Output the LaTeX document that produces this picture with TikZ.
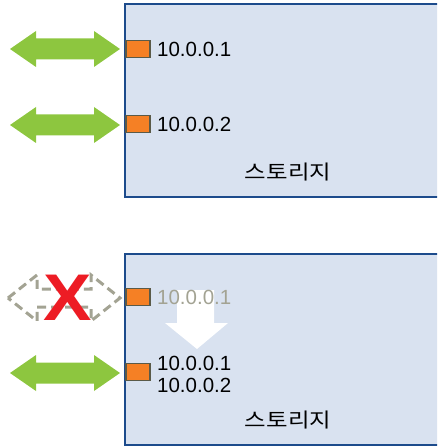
\documentclass[tikz,border=0pt]{standalone}
\usepackage{fontspec}
\setmainfont{Liberation Sans}
\newfontfamily\krfont{Noto Sans CJK KR}
\definecolor{boxfill}{HTML}{D9E2F0}
\definecolor{boxline}{HTML}{1C4B8C}
\definecolor{arrgreen}{HTML}{8DC63F}
\definecolor{portfill}{HTML}{F58025}
\definecolor{portline}{HTML}{5A5A48}
\definecolor{dimgray}{HTML}{A3A393}
\definecolor{xred}{HTML}{ED1C24}
\begin{document}
\begin{tikzpicture}[x=1pt,y=-1pt,
  storage/.style={draw=boxline,line width=2pt,fill=boxfill},
  port/.style={draw=portline,line width=1.6pt,fill=portfill,minimum width=24pt,minimum height=17pt,inner sep=0pt},
  ip/.style={font=\fontsize{20.5}{22}\selectfont,inner sep=0pt,anchor=west},
  lbl/.style={font=\krfont\fontsize{20}{22}\selectfont,inner sep=0pt,xscale=1.17},
  dblarrow/.pic={\path[pic actions] (-55,0) -- (-29,-18) -- (-29,-10.5) -- (29,-10.5) -- (29,-18) -- (55,0) -- (29,18) -- (29,10.5) -- (-29,10.5) -- (-29,18) -- cycle;},
  dimarrow/.pic={\path[pic actions] (-56,0) -- (-27,-23) -- (-27,-9) -- (27,-9) -- (27,-23) -- (56,0) -- (27,23) -- (27,9) -- (-27,9) -- (-27,23) -- cycle;}
]
\useasboundingbox (0,0) rectangle (437,446);
\clip (0,0) rectangle (437,446);
% top storage
\draw[storage] (125,4.5) rectangle (450,196.5);
\node[port] (p1) at (138,49) {};
\node[port] (p2) at (138,124) {};
\node[ip] (ip1) at (157,49) {10.0.0.1};
\node[ip] (ip2) at (157,124) {10.0.0.2};
\node[lbl] (s1) at (288,172) {스토리지};
\pic[fill=arrgreen] (a1) at (65,49) {dblarrow};
\pic[fill=arrgreen] (a2) at (65,125) {dblarrow};
% bottom storage
\draw[storage] (125,253.5) rectangle (450,444.5);
\fill[white] (177,290) -- (214,290) -- (214,323) -- (228,323) -- (197,349) -- (165,323) -- (177,323) -- cycle;
\node[port] (p3) at (138,297) {};
\node[port] (p4) at (138,372) {};
\node[ip,text=dimgray] (ip3) at (157,297) {10.0.0.1};
\node[ip,align=left] (ip4) at (157,374) {10.0.0.1\\10.0.0.2};
\node[lbl] (s2) at (288,420) {스토리지};
\pic[draw=dimgray,line width=3pt,dash pattern=on 9pt off 5pt] (a3) at (64,298) {dimarrow};
\node[text=xred,font=\bfseries\fontsize{66}{66}\selectfont,inner sep=0pt,xscale=1.1] (x) at (67.5,298) {X};
\pic[fill=arrgreen] (a4) at (65,373) {dblarrow};
\end{tikzpicture}
\end{document}
